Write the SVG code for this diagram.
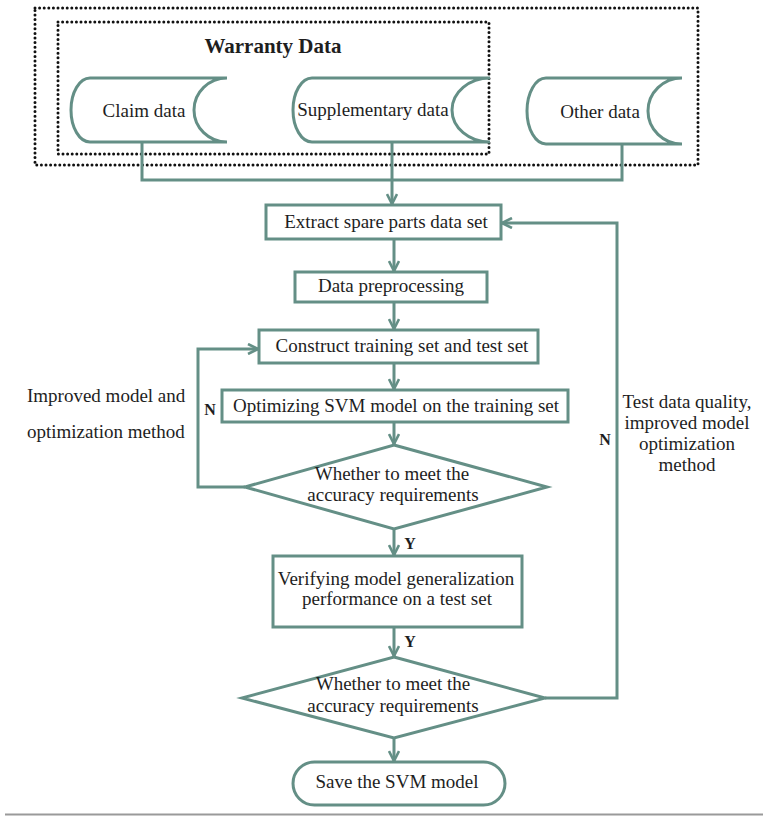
<svg xmlns="http://www.w3.org/2000/svg" width="763" height="816" viewBox="0 0 763 816">
  <defs>
    <marker id="arrow" viewBox="0 0 12 12" refX="11" refY="6" markerWidth="12" markerHeight="12" markerUnits="userSpaceOnUse" orient="auto">
      <path d="M1,1 L11,6 L1,11" fill="none" stroke="#648f86" stroke-width="2.6" stroke-linejoin="miter"/>
    </marker>
  </defs>
  <style>
    .shape { fill: #ffffff; stroke: #648f86; stroke-width: 3; }
    .conn { fill: none; stroke: #648f86; stroke-width: 3; }
    .dots { fill: none; stroke: #111111; stroke-width: 3; stroke-dasharray: 0 4.6; stroke-linecap: round; }
    text { font-family: "Liberation Serif", "Times New Roman", serif; font-size: 19px; fill: #1e1e1e; }
    .c { text-anchor: middle; }
    .title { font-weight: bold; font-size: 21px; }
    .flag { font-weight: bold; font-size: 16px; }
  </style>

  <rect width="763" height="816" fill="#ffffff"/>

  <!-- data source enclosures -->
  <g id="data-sources-frame">
    <rect class="dots" x="35" y="8" width="663" height="157"/>
  </g>
  <g id="warranty-frame">
    <rect class="dots" x="58" y="22" width="431" height="132"/>
    <text class="title c" x="273" y="53">Warranty Data</text>
  </g>

  <!-- connectors -->
  <g id="connectors">
    <polyline class="conn" points="142,142 142,180 622,180 622,144"/>
    <line class="conn" x1="392" y1="142" x2="392" y2="204" marker-end="url(#arrow)"/>
    <line class="conn" x1="394" y1="239" x2="394" y2="271" marker-end="url(#arrow)"/>
    <line class="conn" x1="394" y1="302" x2="394" y2="329" marker-end="url(#arrow)"/>
    <line class="conn" x1="394" y1="363" x2="394" y2="389" marker-end="url(#arrow)"/>
    <line class="conn" x1="394" y1="422" x2="394" y2="444" marker-end="url(#arrow)"/>
    <line class="conn" x1="394" y1="529" x2="394" y2="555" marker-end="url(#arrow)"/>
    <line class="conn" x1="394" y1="627" x2="394" y2="656" marker-end="url(#arrow)"/>
    <line class="conn" x1="394" y1="738" x2="394" y2="761" marker-end="url(#arrow)"/>
    <polyline class="conn" points="245,487 198,487 198,349 258,349" marker-end="url(#arrow)"/>
    <polyline class="conn" points="545,698 617,698 617,223 502,223" marker-end="url(#arrow)"/>
  </g>

  <!-- stored data sources -->
  <g id="claim-data">
    <path class="shape" d="M90,78 L227,78 A33,32 0 0 0 227,142 L90,142 A19,32 0 0 1 90,78 Z"/>
    <text class="c" x="144" y="117">Claim data</text>
  </g>
  <g id="supplementary-data">
    <path class="shape" d="M312,78 L490,78 A38,32 0 0 0 490,142 L312,142 A19,32 0 0 1 312,78 Z"/>
    <text class="c" x="373" y="116">Supplementary data</text>
  </g>
  <g id="other-data">
    <path class="shape" d="M546,78 L682,78 A34,33 0 0 0 682,144 L546,144 A19,33 0 0 1 546,78 Z"/>
    <text class="c" x="600" y="118">Other data</text>
  </g>

  <!-- process steps -->
  <g id="extract">
    <rect class="shape" x="266" y="205" width="235" height="34"/>
    <text class="c" x="386" y="228">Extract spare parts data set</text>
  </g>
  <g id="preprocess">
    <rect class="shape" x="295" y="272" width="192" height="30"/>
    <text class="c" x="391" y="292">Data preprocessing</text>
  </g>
  <g id="construct">
    <rect class="shape" x="259" y="330" width="279" height="33"/>
    <text class="c" x="402" y="352">Construct training set and test set</text>
  </g>
  <g id="optimize">
    <rect class="shape" x="222" y="390" width="346" height="32"/>
    <text class="c" x="396" y="412">Optimizing SVM model on the training set</text>
  </g>
  <g id="check-training">
    <polygon class="shape" points="394,445 547,487 394,529 245,487"/>
    <text class="c" x="392" y="480">Whether to meet the</text>
    <text class="c" x="393" y="501">accuracy requirements</text>
  </g>
  <g id="verify">
    <rect class="shape" x="273" y="556" width="249" height="71"/>
    <text class="c" x="396" y="585">Verifying model generalization</text>
    <text class="c" x="397" y="605">performance on a test set</text>
  </g>
  <g id="check-test">
    <polygon class="shape" points="394,657 545,698 394,738 242,698"/>
    <text class="c" x="393" y="690">Whether to meet the</text>
    <text class="c" x="393" y="712">accuracy requirements</text>
  </g>
  <g id="save">
    <rect class="shape" x="293" y="762" width="212" height="43" rx="21.5" ry="21.5"/>
    <text class="c" x="397" y="788">Save the SVM model</text>
  </g>

  <!-- branch labels -->
  <g id="labels">
    <text class="flag c" x="410" y="549">Y</text>
    <text class="flag c" x="410" y="647">Y</text>
    <text class="flag c" x="210" y="415">N</text>
    <text class="flag c" x="605" y="445">N</text>
    <text x="27" y="402">Improved model and</text>
    <text x="27" y="438">optimization method</text>
    <text class="c" x="687" y="408">Test data quality,</text>
    <text class="c" x="687" y="429">improved model</text>
    <text class="c" x="687" y="450">optimization</text>
    <text class="c" x="687" y="471">method</text>
  </g>

  <line x1="5" y1="814.5" x2="763" y2="814.5" stroke="#9a9a9a" stroke-width="2"/>
</svg>
